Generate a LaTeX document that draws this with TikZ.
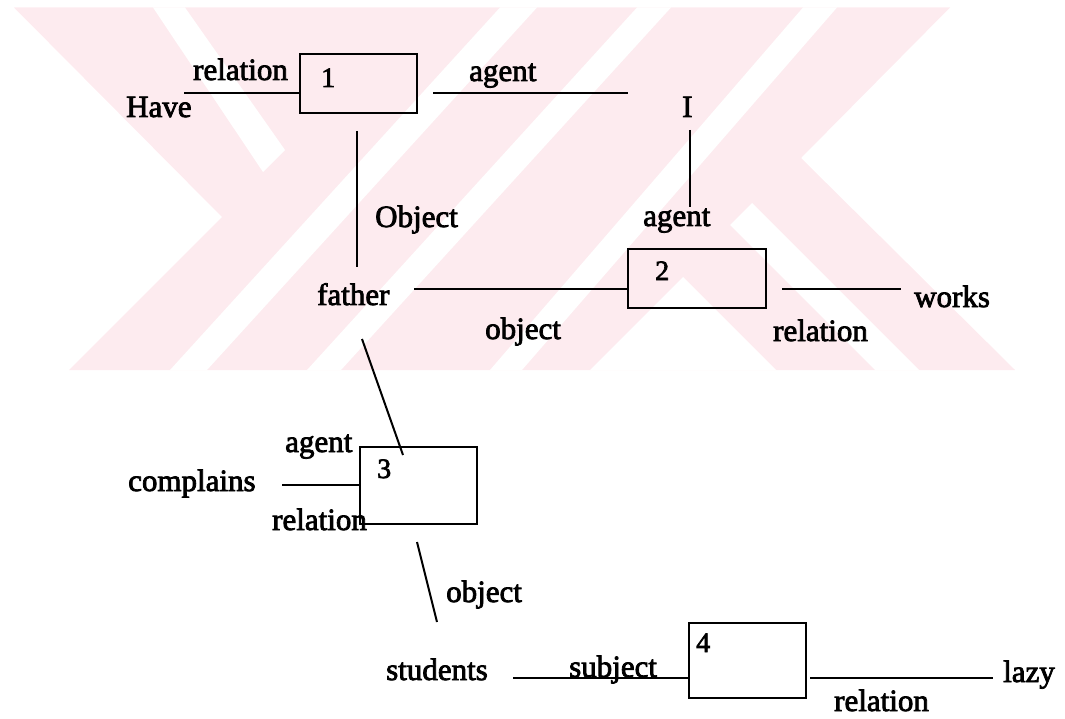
\documentclass[tikz,border=0pt]{standalone}
\usepackage{fontspec}
\setmainfont{Liberation Serif}[FakeBold=2.5]
\definecolor{wmark}{RGB}{253,235,239}
\begin{document}
\begin{tikzpicture}[x=1pt,y=-1pt,
  lbl/.style={inner sep=0pt, anchor=base west, font=\fontsize{31}{37}\selectfont},
  num/.style={inner sep=0pt, anchor=base west, font=\fontsize{28}{34}\selectfont},
  cbox/.style={draw, line width=2pt, inner sep=0pt, anchor=north west},
  link/.style={line width=2pt},
]
\useasboundingbox (0,0) rectangle (1065,719);

% pale background emblem
\fill[wmark] (14,7.5) -- (950,7.5) -- (801,158) -- (1015,370) -- (69,370) -- (222,217) -- cycle;
\fill[white] (153,7.5) -- (185,7.5) -- (285,150) -- (263,172) -- cycle;
\fill[white] (170,370) -- (207,370) -- (537,7.5) -- (500,7.5) -- cycle;
\fill[white] (307,370) -- (341,370) -- (671,7.5) -- (637,7.5) -- cycle;
\fill[white] (490,370) -- (522,370) -- (837,7.5) -- (803,7.5) -- cycle;
\fill[white] (590,370) -- (683,277) -- (776,370) -- cycle;
\fill[white] (730,225) -- (752,203) -- (919,370) -- (875,370) -- cycle;

% concept boxes
\node[cbox, minimum width=117pt, minimum height=59pt] (b1) at (299,53) {};
\node[cbox, minimum width=138pt, minimum height=59pt] (b2) at (627,248) {};
\node[cbox, minimum width=117pt, minimum height=77pt] (b3) at (359,446) {};
\node[cbox, minimum width=117pt, minimum height=75pt] (b4) at (688,622) {};

% box numbers
\node[num] (n1) at (321,87) {1};
\node[num] (n2) at (655,280) {2};
\node[num] (n3) at (377,478) {3};
\node[num] (n4) at (696,652) {4};

% words and relation labels
\node[lbl] (have) at (126,117) {Have};
\node[lbl] (rel1) at (193,80) {relation};
\node[lbl] (ag1) at (469,81) {agent};
\node[lbl] (iw) at (682,117) {I};
\node[lbl] (obj1) at (375,227) {Object};
\node[lbl] (ag2) at (643,226) {agent};
\node[lbl] (father) at (317,305) {father};
\node[lbl] (works) at (914,307) {works};
\node[lbl] (obj2) at (485,339) {object};
\node[lbl] (rel2) at (773,341) {relation};
\node[lbl] (ag3) at (285,452) {agent};
\node[lbl] (compl) at (128,491) {complains};
\node[lbl] (rel3) at (272,530) {relation};
\node[lbl] (obj3) at (446,602) {object};
\node[lbl] (stud) at (386,680) {students};
\node[lbl] (subj) at (569,677) {subject};
\node[lbl] (lazy) at (1003,682) {lazy};
\node[lbl] (rel4) at (834,711) {relation};

% connector end points
\coordinate (hv) at (184,93);
\coordinate (a1s) at (433,93);
\coordinate (a1e) at (628,93);
\coordinate (o1s) at (357,131);
\coordinate (o1e) at (357,267);
\coordinate (is) at (690,130);
\coordinate (ie) at (690,207);
\coordinate (fa) at (414,289);
\coordinate (w2s) at (782,289);
\coordinate (w2e) at (901,289);
\coordinate (f3s) at (362,339);
\coordinate (f3e) at (403,455);
\coordinate (cm) at (282,485);
\coordinate (s3s) at (417,542);
\coordinate (s3e) at (437,622);
\coordinate (st) at (513,678);
\coordinate (lzs) at (810,678);
\coordinate (lze) at (993,678);

% connectors
\draw[link] (hv) -- (hv -| b1.west);
\draw[link] (a1s) -- (a1e);
\draw[link] (o1s) -- (o1e);
\draw[link] (is) -- (ie);
\draw[link] (fa) -- (fa -| b2.west);
\draw[link] (w2s) -- (w2e);
\draw[link] (f3s) -- (f3e);
\draw[link] (cm) -- (cm -| b3.west);
\draw[link] (s3s) -- (s3e);
\draw[link] (st) -- (st -| b4.west);
\draw[link] (lzs) -- (lze);
\end{tikzpicture}
\end{document}
